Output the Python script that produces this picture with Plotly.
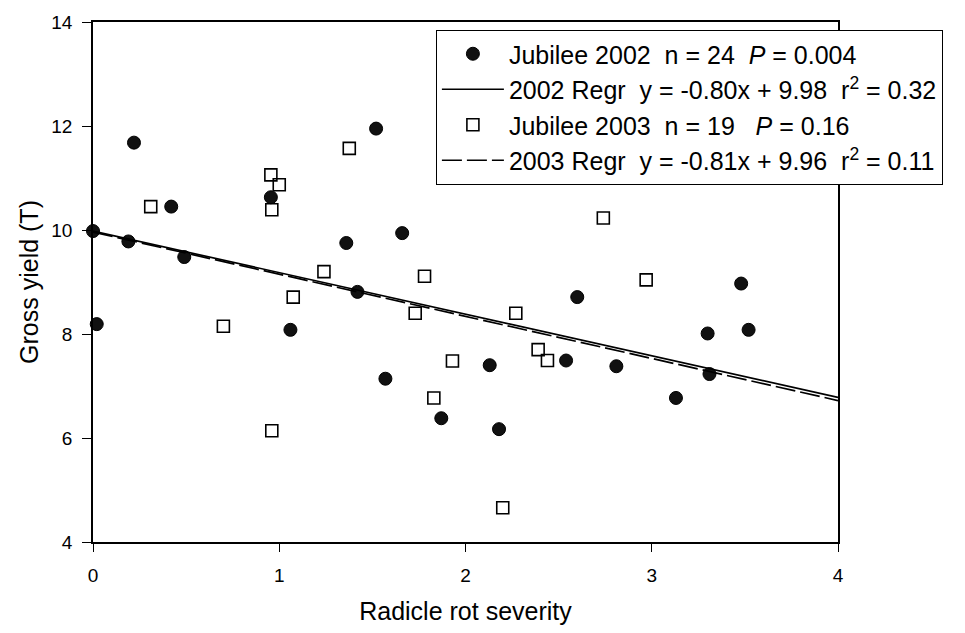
import plotly.graph_objects as go

# Jubilee 2002 observations
x_2002 = [0.00, 0.02, 0.19, 0.22, 0.42, 0.49, 0.955, 1.06, 1.36, 1.42, 1.52, 1.57,
          1.66, 1.87, 2.13, 2.18, 2.54, 2.60, 2.81, 3.13, 3.30, 3.31, 3.48, 3.52]
y_2002 = [9.98, 8.19, 9.78, 11.68, 10.45, 9.48, 10.63, 8.08, 9.75, 8.81, 11.95, 7.14,
          9.94, 6.38, 7.40, 6.17, 7.49, 8.71, 7.38, 6.77, 8.01, 7.23, 8.97, 8.08]

# Jubilee 2003 observations
x_2003 = [0.31, 0.70, 0.955, 0.96, 0.96, 1.00, 1.075, 1.24, 1.376, 1.73,
          1.78, 1.83, 1.93, 2.20, 2.27, 2.39, 2.44, 2.74, 2.97]
y_2003 = [10.45, 8.15, 11.06, 10.39, 6.14, 10.87, 8.71, 9.20, 11.57, 8.40,
          9.11, 6.77, 7.48, 4.66, 8.40, 7.70, 7.49, 10.23, 9.04]

# Fitted regressions (slope, intercept) and their x extent
fit_2002 = (-0.80, 9.98)
fit_2003 = (-0.81, 9.96)
fit_x = [0, 4]

x_ticks = [0, 1, 2, 3, 4]
y_ticks = [4, 6, 8, 10, 12, 14]

FONT = "Liberation Sans, Arial, sans-serif"
NB = "\u00a0"

fig = go.Figure()

fig.add_trace(go.Scatter(
    x=x_2002, y=y_2002, mode="markers",
    name=f"Jubilee 2002{NB}{NB}n = 24{NB}{NB}<i>P</i> = 0.004",
    marker=dict(symbol="circle", size=13, color="#111111",
                line=dict(color="#000000", width=1)),
    cliponaxis=False,
))
fig.add_trace(go.Scatter(
    x=fit_x, y=[fit_2002[0] * v + fit_2002[1] for v in fit_x], mode="lines",
    name=f"2002 Regr{NB}{NB}y = -0.80x + 9.98{NB}{NB}r<sup>2</sup> = 0.32",
    line=dict(color="#000000", width=1.7),
))
fig.add_trace(go.Scatter(
    x=x_2003, y=y_2003, mode="markers",
    name=f"Jubilee 2003{NB}{NB}n = 19{NB}{NB}{NB}<i>P</i> = 0.16",
    marker=dict(symbol="square-open", size=12, color="#000000",
                line=dict(color="#000000", width=1.6)),
    cliponaxis=False,
))
fig.add_trace(go.Scatter(
    x=fit_x, y=[fit_2003[0] * v + fit_2003[1] for v in fit_x], mode="lines",
    name=f"2003 Regr{NB}{NB}y = -0.81x + 9.96{NB}{NB}r<sup>2</sup> = 0.11",
    line=dict(color="#000000", width=1.7, dash="20px,5px"),
))

fig.update_layout(
    width=965, height=633,
    margin=dict(l=93, r=127, t=15, b=89),
    paper_bgcolor="white", plot_bgcolor="white",
    font=dict(family=FONT, size=19, color="#000000"),
    legend=dict(
        x=0.46, y=0.985, xanchor="left", yanchor="top",
        bgcolor="white", bordercolor="#000000", borderwidth=1.2,
        font=dict(family=FONT, size=25, color="#000000"),
        itemwidth=62, tracegroupgap=0,
    ),
    showlegend=True,
)

fig.update_xaxes(
    range=[0, 4], tickvals=x_ticks, ticktext=[str(v) for v in x_ticks],
    showgrid=False, zeroline=False,
    showline=True, linecolor="#000000", linewidth=1.5, mirror=True,
    ticks="outside", ticklen=8, tickwidth=1.2, tickcolor="#000000",
    ticklabelstandoff=7,
    tickfont=dict(family=FONT, size=19),
    title=dict(text="Radicle rot severity", font=dict(family=FONT, size=25), standoff=18),
)
fig.update_yaxes(
    range=[4, 14], tickvals=y_ticks, ticktext=[str(v) for v in y_ticks],
    showgrid=False, zeroline=False,
    showline=True, linecolor="#000000", linewidth=1.5, mirror=True,
    ticks="outside", ticklen=9, tickwidth=1.2, tickcolor="#000000",
    ticklabelstandoff=6,
    tickfont=dict(family=FONT, size=19),
    title=dict(text="Gross yield (T)", font=dict(family=FONT, size=25), standoff=6),
)

fig.write_html("out.html")
